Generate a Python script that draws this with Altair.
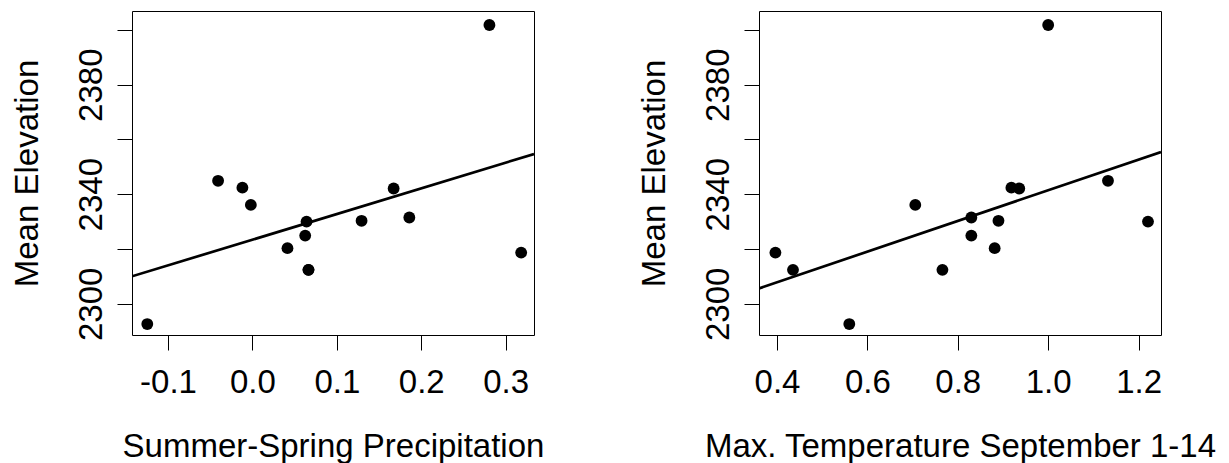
import altair as alt
import pandas as pd

# Observations: mean elevation against two climate predictors
elevation = [2292.6, 2344.9, 2342.4, 2342.1, 2336.1, 2320.3, 2330.0,
             2330.3, 2324.9, 2312.4, 2312.4, 2331.5, 2401.8, 2318.7]
precipitation = [-0.1246, -0.0407, -0.0119, 0.1673, -0.0019, 0.0415, 0.0641,
                 0.1293, 0.0625, 0.0664, 0.0664, 0.1859, 0.2808, 0.3184]
temperature = [0.560, 1.1323, 0.9186, 0.936, 0.706, 0.8816, 1.2208,
               0.890, 0.830, 0.4354, 0.766, 0.830, 1.0, 0.3965]

precip_ticks = [-0.1, 0.0, 0.1, 0.2, 0.3]
temp_ticks = [0.4, 0.6, 0.8, 1.0, 1.2]
elev_ticks = [2300, 2320, 2340, 2360, 2380, 2400]
elev_labelled = [2300, 2340, 2380]

df = pd.DataFrame({"elev": elevation, "precip": precipitation, "temp": temperature})

FONT = "Liberation Sans"
FS = 33
W, H = 402, 324

y_domain = [2288.6, 2406.9]


def panel(field, title, domain, ticks):
    x = alt.X(
        f"{field}:Q",
        title=title,
        scale=alt.Scale(domain=domain, nice=False, zero=False),
        axis=alt.Axis(
            values=ticks,
            labelExpr="(datum.value < 0 ? '-' : '') + format(abs(datum.value), '.1f')",
            domain=False, grid=False,
            tickSize=15, tickColor="black", tickWidth=1,
            labelFont=FONT, labelFontSize=FS, labelColor="black",
            labelBaseline="alphabetic", labelPadding=42,
            labelFlush=False, labelOverlap=False,
            titleFont=FONT, titleFontSize=FS, titleFontWeight="normal",
            titleColor="black", titleBaseline="alphabetic",
            titleX=W / 2, titleY=121.5, titleAlign="center",
        ),
    )
    y = alt.Y(
        "elev:Q",
        title="Mean Elevation",
        scale=alt.Scale(domain=y_domain, nice=False, zero=False),
        axis=alt.Axis(
            values=elev_ticks,
            labelExpr=f"indexof({elev_labelled}, datum.value) >= 0 ? format(datum.value, 'd') : ''",
            domain=False, grid=False,
            tickSize=15, tickColor="black", tickWidth=1,
            labelFont=FONT, labelFontSize=FS, labelColor="black",
            labelAngle=270, labelAlign="center", labelBaseline="alphabetic",
            labelPadding=16, labelFlush=False, labelOverlap=False,
            titleFont=FONT, titleFontSize=FS, titleFontWeight="normal",
            titleColor="black", titleAngle=270, titleAlign="center",
            titleBaseline="alphabetic", titleX=-95, titleY=H / 2,
        ),
    )
    base = alt.Chart(df)
    fit = (
        base.transform_regression(field, "elev", extent=domain)
        .mark_line(color="black", strokeWidth=2.7, clip=True)
        .encode(x=x, y=y)
    )
    dots = base.mark_circle(size=140, color="black", opacity=1).encode(x=x, y=y)
    return (fit + dots).properties(width=W, height=H)


left = panel("precip", "Summer-Spring Precipitation", [-0.1427, 0.3336], precip_ticks)
right = panel("temp", "Max. Temperature September 1-14", [0.3602, 1.2496], temp_ticks)

chart = (
    alt.hconcat(left, right, spacing=92)
    .properties(padding={"left": 10, "top": 10, "right": 0, "bottom": 0}, background="white")
    .configure_view(stroke="black", strokeWidth=1)
)

chart.save("out.html", embed_options={"renderer": "svg", "actions": False})
